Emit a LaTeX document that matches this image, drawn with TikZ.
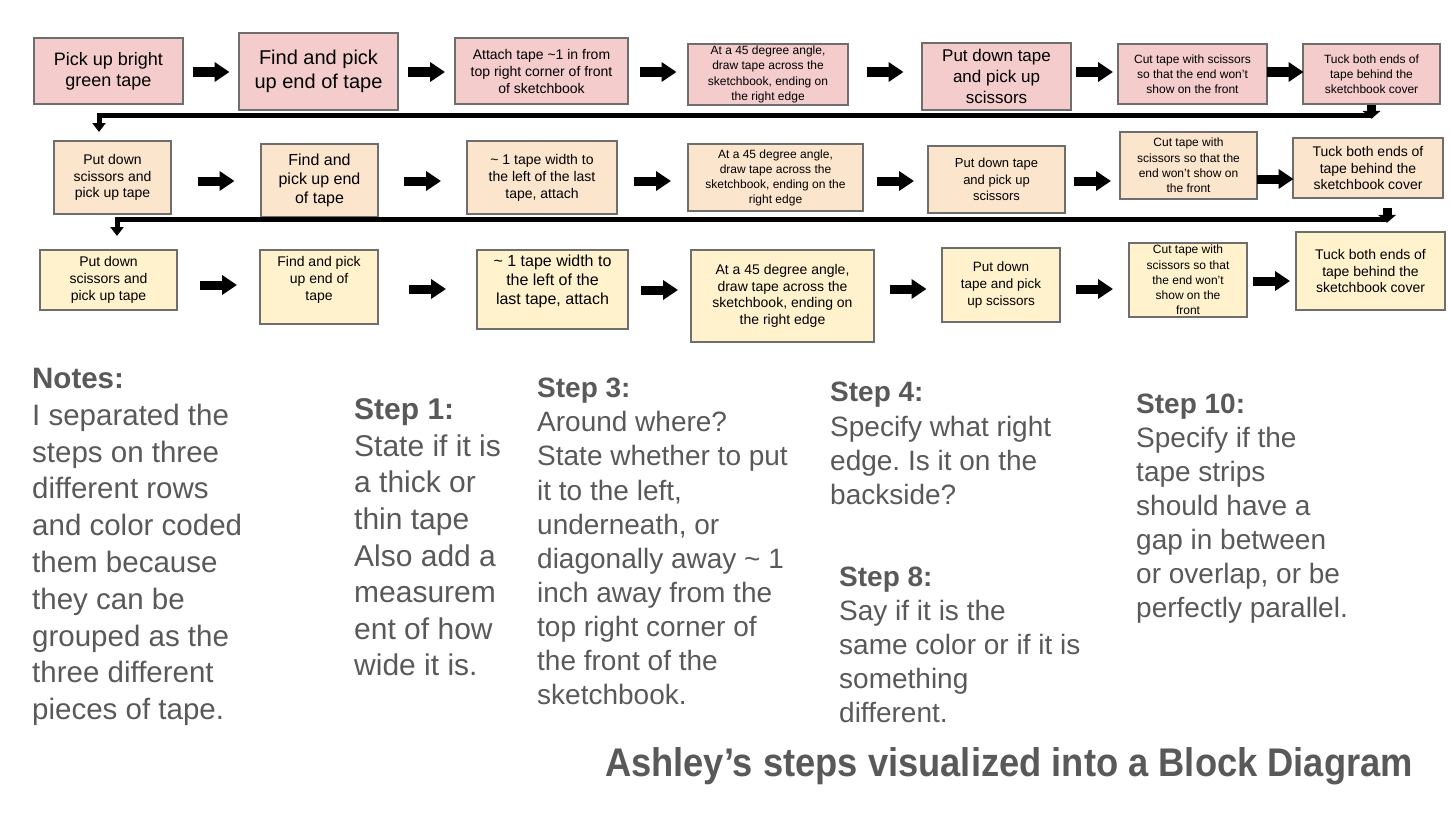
\documentclass[tikz,border=0pt]{standalone}
\usepackage{fontspec}
\setmainfont{Liberation Sans}
\usepackage{xcolor}
\usepackage{tikz}
\usetikzlibrary{arrows.meta,calc}
\definecolor{tapepink}{HTML}{F4CCCC}
\definecolor{tapepeach}{HTML}{FCE5CD}
\definecolor{tapecream}{HTML}{FFF2CC}
\definecolor{boxgray}{HTML}{6E6E6E}
\definecolor{notegray}{HTML}{595959}
\newcommand\fsz[2]{\fontsize{#1pt}{#2pt}\selectfont}
\frenchspacing

\begin{document}
\begin{tikzpicture}[x=1pt,y=-1pt,
  stepbox/.style={draw=boxgray,line width=1.5pt,align=center,inner sep=0pt},
  blockarrow/.style={line width=9pt,-{Triangle[length=15pt,width=19pt]}},
  rowline/.style={line width=5pt,-{Triangle[length=9pt,width=13pt]}},
  dropstub/.style={line width=9pt,-{Triangle[length=8pt,width=18pt]}},
  notetext/.style={text=notegray,align=left,anchor=north west,inner sep=0pt}]
  \useasboundingbox (0,0) rectangle (1450,816);
  % first tape, pink row
  \node[stepbox,fill=tapepink,minimum width=149pt,minimum height=66pt,font=\fsz{18}{21}] (b1) at (108.5,71) {Pick up bright\\green tape};
  \node[stepbox,fill=tapepink,minimum width=159pt,minimum height=77pt,font=\fsz{20}{24}] (b2) at (318.5,71.5) {Find and pick\\up end of tape};
  \node[stepbox,fill=tapepink,minimum width=173pt,minimum height=66pt,font=\fsz{14}{17}] (b3) at (541.5,71) {Attach tape \textasciitilde1 in from\\top right corner of front\\of sketchbook};
  \node[stepbox,fill=tapepink,minimum width=160pt,minimum height=61pt,font=\fsz{12}{15.3}] (b4) at (768,74.5) {At a 45 degree angle,\\draw tape across the\\sketchbook, ending on\\the right edge};
  \node[stepbox,fill=tapepink,minimum width=149pt,minimum height=67pt,font=\fsz{17}{21}] (b5) at (996.5,76.5) {Put down tape\\and pick up\\scissors};
  \node[stepbox,fill=tapepink,minimum width=149pt,minimum height=60pt,font=\fsz{12}{15}] (b6) at (1192.5,74) {Cut tape with scissors\\so that the end won't\\show on the front};
  \node[stepbox,fill=tapepink,minimum width=137pt,minimum height=60pt,font=\fsz{12}{15}] (b7) at (1371.5,74) {Tuck both ends of\\tape behind the\\sketchbook cover};
  % second tape, peach row
  \node[stepbox,fill=tapepeach,minimum width=117pt,minimum height=73pt,font=\fsz{14}{16.7}] (c1) at (112.5,177.5) {Put down\\scissors and\\pick up tape};
  \node[stepbox,fill=tapepeach,minimum width=117pt,minimum height=73pt,font=\fsz{16}{19}] (c2) at (319.5,180.5) {Find and\\pick up end\\of tape};
  \node[stepbox,fill=tapepeach,minimum width=150pt,minimum height=73pt,font=\fsz{14}{17}] (c3) at (542,177.5) {\textasciitilde{} 1 tape width to\\the left of the last\\tape, attach};
  \node[stepbox,fill=tapepeach,minimum width=175pt,minimum height=67pt,font=\fsz{12}{15}] (c4) at (775.5,177.5) {At a 45 degree angle,\\draw tape across the\\sketchbook, ending on the\\right edge};
  \node[stepbox,fill=tapepeach,minimum width=137pt,minimum height=67pt,font=\fsz{13}{16.5}] (c5) at (996.5,179.5) {Put down tape\\and pick up\\scissors};
  \node[stepbox,fill=tapepeach,minimum width=137pt,minimum height=67pt,font=\fsz{12}{15.3}] (c6) at (1188.5,165.5) {Cut tape with\\scissors so that the\\end won't show on\\the front};
  \node[stepbox,fill=tapepeach,minimum width=150pt,minimum height=60pt,font=\fsz{14}{16.3}] (c7) at (1368,168) {Tuck both ends of\\tape behind the\\sketchbook cover};
  % third tape, cream row
  \node[stepbox,fill=tapecream,minimum width=137pt,minimum height=60pt,font=\fsz{14}{16.7}] (d1) at (108.5,280) {Put down\\scissors and\\pick up tape};
  \node[stepbox,fill=tapecream,minimum width=118pt,minimum height=74pt,font=\fsz{14}{17}] (d2) at (319,287) {Find and pick\\up end of\\tape\\\mbox{}};
  \node[stepbox,fill=tapecream,minimum width=151pt,minimum height=79pt,font=\fsz{16}{19}] (d3) at (552.5,289.5) {\textasciitilde{} 1 tape width to\\the left of the\\last tape, attach\\\mbox{}};
  \node[stepbox,fill=tapecream,minimum width=183pt,minimum height=92pt,font=\fsz{14}{16.7}] (d4) at (782.5,296) {At a 45 degree angle,\\draw tape across the\\sketchbook, ending on\\the right edge};
  \node[stepbox,fill=tapecream,minimum width=118pt,minimum height=74pt,font=\fsz{13.5}{17}] (d5) at (1001,285) {Put down\\tape and pick\\up scissors};
  \node[stepbox,fill=tapecream,minimum width=118pt,minimum height=74pt,font=\fsz{12}{15.2}] (d6) at (1188,280) {Cut tape with\\scissors so that\\the end won't\\show on the\\front};
  \node[stepbox,fill=tapecream,minimum width=149pt,minimum height=78pt,font=\fsz{14}{16.5}] (d7) at (1370.5,271) {Tuck both ends of\\tape behind the\\sketchbook cover};
  % arrows between the steps
  \draw[blockarrow] ($(b1.east |- 0,72)!.5!(b2.west |- 0,72)+(-18.5,0)$) -- +(37,0);
  \draw[blockarrow] ($(b2.east |- 0,72)!.5!(b3.west |- 0,72)+(-18.5,0)$) -- +(37,0);
  \draw[blockarrow] ($(b3.east |- 0,72)!.5!(b4.west |- 0,72)+(-18.5,0)$) -- +(37,0);
  \draw[blockarrow] ($(b4.east |- 0,72)!.5!(b5.west |- 0,72)+(-18.5,0)$) -- +(37,0);
  \draw[blockarrow] ($(b5.east |- 0,72)!.5!(b6.west |- 0,72)+(-18.5,0)$) -- +(37,0);
  \draw[blockarrow] ($(b6.east |- 0,72)!.5!(b7.west |- 0,72)+(-18.5,0)$) -- +(37,0);
  \draw[blockarrow] ($(c1.east |- 0,181)!.5!(c2.west |- 0,181)+(-18.5,0)$) -- +(37,0);
  \draw[blockarrow] ($(c2.east |- 0,181)!.5!(c3.west |- 0,181)+(-18.5,0)$) -- +(37,0);
  \draw[blockarrow] ($(c3.east |- 0,181)!.5!(c4.west |- 0,181)+(-18.5,0)$) -- +(37,0);
  \draw[blockarrow] ($(c4.east |- 0,181)!.5!(c5.west |- 0,181)+(-18.5,0)$) -- +(37,0);
  \draw[blockarrow] ($(c5.east |- 0,181)!.5!(c6.west |- 0,181)+(-18.5,0)$) -- +(37,0);
  \draw[blockarrow] ($(c6.east |- 0,179)!.5!(c7.west |- 0,179)+(-18.5,0)$) -- +(37,0);
  \draw[blockarrow] ($(d1.east |- 0,285)!.5!(d2.west |- 0,285)+(-18.5,0)$) -- +(37,0);
  \draw[blockarrow] ($(d2.east |- 0,289)!.5!(d3.west |- 0,289)+(-18.5,0)$) -- +(37,0);
  \draw[blockarrow] ($(d3.east |- 0,290)!.5!(d4.west |- 0,290)+(-18.5,0)$) -- +(37,0);
  \draw[blockarrow] ($(d4.east |- 0,289)!.5!(d5.west |- 0,289)+(-18.5,0)$) -- +(37,0);
  \draw[blockarrow] ($(d5.east |- 0,289)!.5!(d6.west |- 0,289)+(-18.5,0)$) -- +(37,0);
  \draw[blockarrow] ($(d6.east |- 0,281)!.5!(d7.west |- 0,281)+(-18.5,0)$) -- +(37,0);
  % wrap to the next row
  \coordinate (turn1) at (1373,115);
  \coordinate (drop1) at (99,132);
  \draw[dropstub] (b7.south) -- ++(0,14);
  \draw[rowline] (turn1) -| (drop1);
  \coordinate (turn2) at (1387,219);
  \coordinate (drop2) at (117,236);
  \draw[dropstub] ($(c7.south -| turn2)+(0,9)$) -- ++(0,15);
  \draw[rowline] (turn2) -| (drop2);
  % notes below
  \node[notetext,font=\fsz{29.5}{36.8}] (notes) at (32,368) {\textbf{Notes:}\\I separated the\\steps on three\\different rows\\and color coded\\them because\\they can be\\grouped as the\\three different\\pieces of tape.};
  \node[notetext,font=\fsz{30}{36.6}] (step1) at (354,398.5) {\textbf{Step 1:}\\State if it is\\a thick or\\thin tape\\Also add a\\measurem\\ent of how\\wide it is.};
  \node[notetext,font=\fsz{28}{34.1}] (step3) at (537,378) {\textbf{Step 3:}\\Around where?\\State whether to put\\it to the left,\\underneath, or\\diagonally away \textasciitilde{} 1\\inch away from the\\top right corner of\\the front of the\\sketchbook.};
  \node[notetext,font=\fsz{28}{34.3}] (step4) at (830,382) {\textbf{Step 4:}\\Specify what right\\edge. Is it on the\\backside?};
  \node[notetext,font=\fsz{28}{34}] (step8) at (839,567) {\textbf{Step 8:}\\Say if it is the\\same color or if it is\\something\\different.};
  \node[notetext,font=\fsz{28}{34}] (step10) at (1136,394) {\textbf{Step 10:}\\Specify if the\\tape strips\\should have a\\gap in between\\or overlap, or be\\perfectly parallel.};
  \node[text=notegray,inner sep=0pt] (title) at (1009,766) {\resizebox{808pt}{\height}{\fsz{40}{42}\bfseries Ashley’s steps visualized into a Block Diagram}};
\end{tikzpicture}
\end{document}
